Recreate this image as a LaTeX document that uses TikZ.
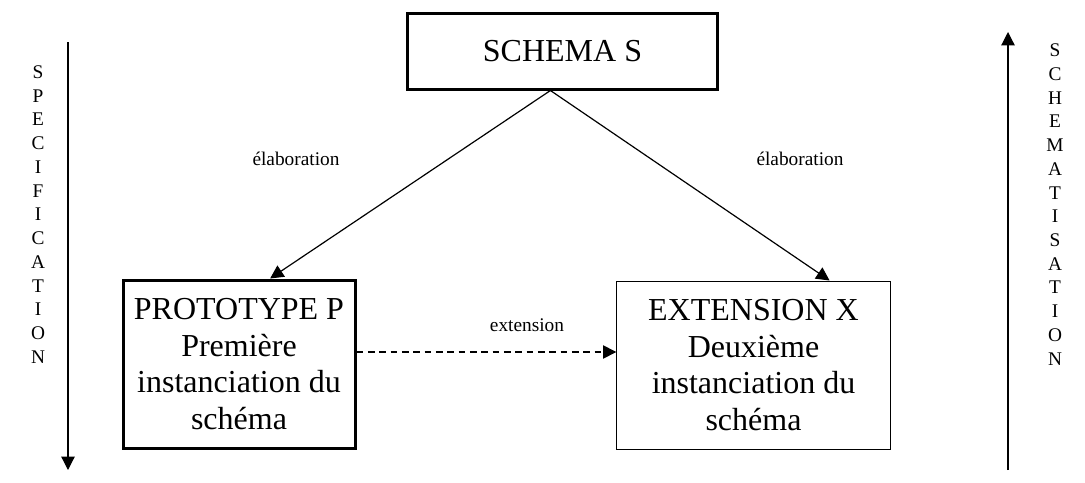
\documentclass[tikz,border=0pt]{standalone}
\usepackage{fontspec}
\setmainfont{Liberation Serif}
\usetikzlibrary{arrows.meta,positioning,calc}
\tikzset{
  boite/.style={draw,line width=0.75pt,align=center,inner sep=0pt,
                font=\fontsize{24}{27.6}\selectfont},
  boitegras/.style={boite,line width=2.25pt},
  fleche/.style={-{Triangle[length=10pt,width=10pt]},line width=0.9pt},
  pointille/.style={fleche,dash pattern=on 5pt off 3.5pt},
  etiquette/.style={font=\fontsize{14.5}{17}\selectfont,inner sep=1pt},
  colonne/.style={align=center,font=\fontsize{14.5}{17.8}\selectfont,inner sep=0pt},
}

\begin{document}
\begin{tikzpicture}[x=0.75pt,y=-0.75pt]
  \useasboundingbox (0,0) rectangle (1085,482);
  % les trois boites
  \node[boitegras,minimum width=233pt,minimum height=57pt] (S) at (562.5,51) {SCHEMA S};
  \node[boitegras,minimum width=174pt,minimum height=126pt] (P) at (239,364)
    {PROTOTYPE P\\Première\\instanciation du\\schéma};
  \node[boite,minimum width=205pt,minimum height=126pt] (X) at (753.5,365)
    {EXTENSION X\\Deuxième\\instanciation du\\schéma};
  % liens
  \draw[fleche] (S.253) -- (P.70);
  \draw[fleche] (S.253) -- (X.48);
  \draw[pointille] ([yshift=9pt]P.east) -- ([yshift=9pt]P.east -| X.west);
  \node[etiquette] (elabG) at (296,159) {élaboration};
  \node[etiquette] (elabD) at (800,159) {élaboration};
  \node[etiquette] (ext) at (527,325) {extension};
  % axes lateraux
  \coordinate (hautG) at (68,42);
  \coordinate (basG) at (68,470);
  \coordinate (basD) at (1008,470);
  \coordinate (hautD) at (1008,32);
  \draw[fleche] (hautG) -- (basG);
  \draw[fleche] (basD) -- (hautD);
  \node[colonne] (spec) at (38,214.5) {S\\P\\E\\C\\I\\F\\I\\C\\A\\T\\I\\O\\N};
  \node[colonne] (schem) at (1055,204.5) {S\\C\\H\\E\\M\\A\\T\\I\\S\\A\\T\\I\\O\\N};
\end{tikzpicture}
\end{document}
